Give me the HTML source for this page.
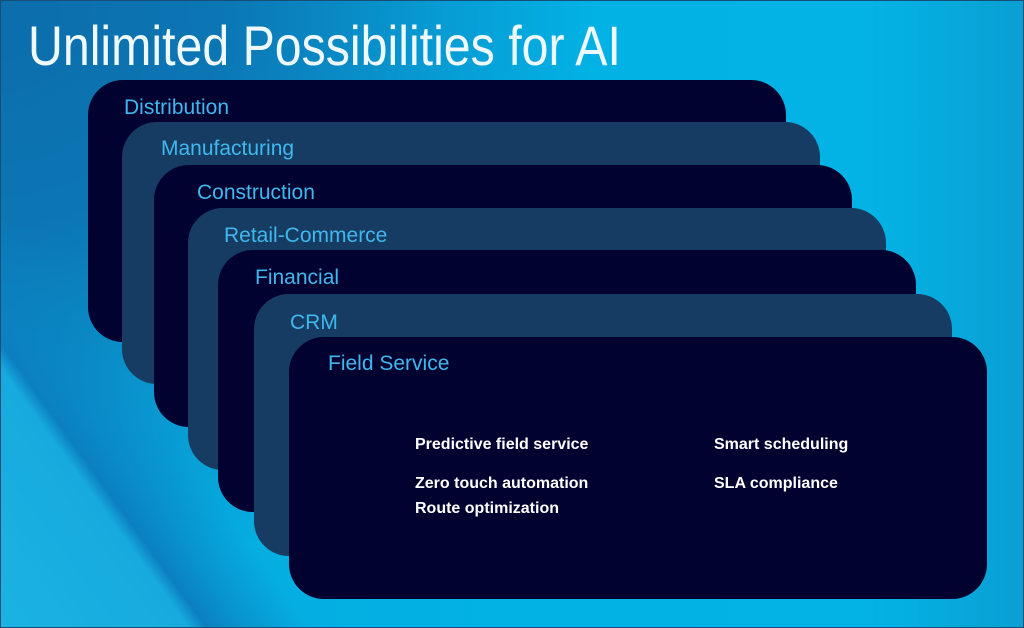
<!DOCTYPE html>
<html>
<head>
<meta charset="utf-8">
<style>
html,body{margin:0;padding:0;}
body{width:1024px;height:628px;overflow:hidden;position:relative;
background:
 linear-gradient(54deg,#1bb3e3 0%,#17aade 12.8%,#0b80c1 14%,rgba(11,127,192,0.55) 16.5%,rgba(11,127,192,0) 21%),
 radial-gradient(circle at 0 0,#0c6dab 0px,rgba(12,112,175,0.9) 220px,rgba(12,128,190,0.5) 420px,rgba(12,130,190,0) 600px),
 linear-gradient(to right,#08a8dd 0%,#02b2e5 50%,#03b3e5 85%,#0a9fd3 100%);
font-family:"Liberation Sans",sans-serif;}
.frame{position:absolute;left:0;top:0;width:1022px;height:626px;border:1px solid #164e74;}
.title{position:absolute;left:28px;top:18px;font-size:56px;line-height:56px;color:#eef8fd;white-space:nowrap;transform:scaleX(0.862);transform-origin:0 0;font-weight:normal;}
.card{position:absolute;width:698px;height:262px;border-radius:35px;}
.d{background:#020230;}
.m{background:#173c63;}
.lbl{position:absolute;font-size:21px;line-height:21px;color:#3fb8ee;white-space:nowrap;}
.b{position:absolute;font-size:16px;line-height:16px;font-weight:bold;color:#fff;white-space:nowrap;}
</style>
</head>
<body>
<div class="frame"></div>
<div class="title">Unlimited Possibilities for AI</div>

<div class="card d" style="left:88px;top:80px;"></div>
<div class="lbl" style="left:124px;top:97px;">Distribution</div>

<div class="card m" style="left:122px;top:122px;"></div>
<div class="lbl" style="left:161px;top:138px;">Manufacturing</div>

<div class="card d" style="left:154px;top:165px;"></div>
<div class="lbl" style="left:197px;top:182px;">Construction</div>

<div class="card m" style="left:188px;top:208px;"></div>
<div class="lbl" style="left:224px;top:225px;">Retail-Commerce</div>

<div class="card d" style="left:218px;top:250px;"></div>
<div class="lbl" style="left:255px;top:267px;">Financial</div>

<div class="card m" style="left:254px;top:294px;"></div>
<div class="lbl" style="left:290px;top:312px;">CRM</div>

<div class="card d" style="left:289px;top:337px;"></div>
<div class="lbl" style="left:328px;top:353px;">Field Service</div>

<div class="b" style="left:415px;top:437px;">Predictive field service</div>
<div class="b" style="left:415px;top:476px;">Zero touch automation</div>
<div class="b" style="left:415px;top:501px;">Route optimization</div>
<div class="b" style="left:714px;top:437px;">Smart scheduling</div>
<div class="b" style="left:714px;top:476px;">SLA compliance</div>
</body>
</html>
